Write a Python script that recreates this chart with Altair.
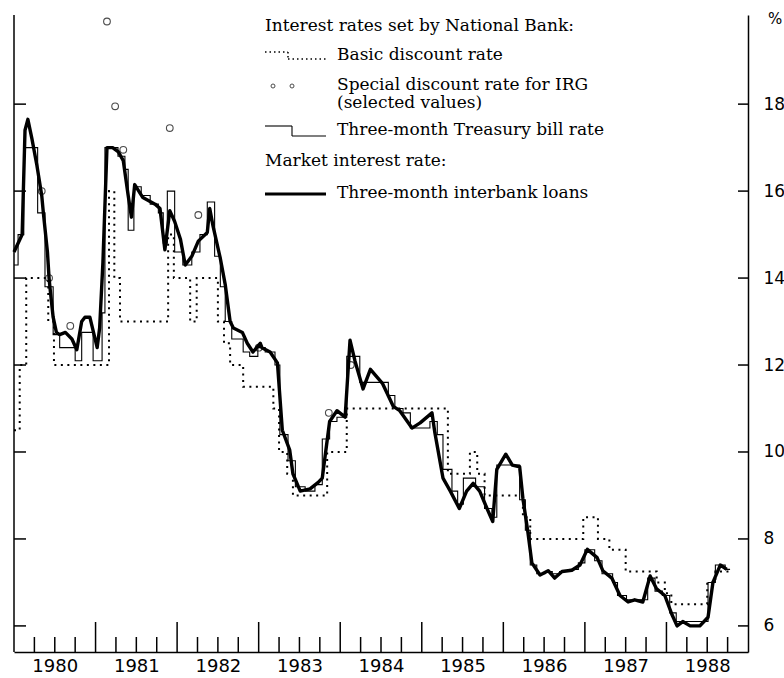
import altair as alt
import pandas as pd

# ---------------- data (decimal year, percent) ----------------
ib_t = [1980.00, 1980.10, 1980.135, 1980.17, 1980.22, 1980.28, 1980.34, 1980.36, 1980.41, 1980.43,
        1980.44, 1980.48, 1980.52, 1980.56, 1980.63, 1980.71, 1980.77, 1980.83, 1980.87, 1980.93,
        1981.02, 1981.05, 1981.09, 1981.14, 1981.21, 1981.28, 1981.34, 1981.40, 1981.44, 1981.48,
        1981.58, 1981.73, 1981.79, 1981.85, 1981.91, 1981.97, 1982.04, 1982.10, 1982.18, 1982.26,
        1982.37, 1982.40, 1982.44, 1982.53, 1982.59, 1982.65, 1982.69, 1982.80, 1982.86, 1982.93,
        1983.02, 1983.04, 1983.14, 1983.23, 1983.29, 1983.38, 1983.42, 1983.51, 1983.63, 1983.73,
        1983.78, 1983.87, 1983.96, 1984.06, 1984.12, 1984.18, 1984.28, 1984.37, 1984.52, 1984.65,
        1984.73, 1984.88, 1984.98, 1985.125, 1985.16, 1985.26, 1985.35, 1985.46, 1985.55, 1985.63,
        1985.71, 1985.80, 1985.87, 1985.92, 1986.03, 1986.11, 1986.20, 1986.24, 1986.30, 1986.35,
        1986.45, 1986.55, 1986.63, 1986.72, 1986.84, 1986.94, 1987.03, 1987.15, 1987.22, 1987.33,
        1987.43, 1987.53, 1987.61, 1987.71, 1987.80, 1987.88, 1987.98, 1988.07, 1988.13, 1988.20,
        1988.29, 1988.41, 1988.51, 1988.57, 1988.66, 1988.74]
ib_v = [14.6, 15.0, 17.4, 17.65, 17.2, 16.6, 15.9, 15.5, 14.6, 14.0,
        13.8, 13.1, 12.75, 12.7, 12.75, 12.6, 12.35, 13.0, 13.1, 13.1,
        12.4, 12.85, 14.35, 17.0, 17.0, 16.9, 16.7, 15.9, 15.4, 16.15,
        15.85, 15.7, 15.6, 14.65, 15.55, 15.3, 14.9, 14.3, 14.5, 14.85,
        15.05, 15.6, 15.2, 14.45, 13.85, 13.0, 12.85, 12.75, 12.5, 12.3,
        12.5, 12.4, 12.3, 12.05, 10.5, 10.05, 9.5, 9.1, 9.15, 9.3,
        9.4, 10.7, 10.95, 10.8, 12.57, 12.1, 11.45, 11.9, 11.57, 11.05,
        10.95, 10.55, 10.67, 10.9, 10.45, 9.4, 9.1, 8.7, 9.1, 9.28,
        9.1, 8.7, 8.4, 9.6, 9.95, 9.7, 9.66, 8.93, 8.17, 7.45,
        7.17, 7.27, 7.1, 7.25, 7.28, 7.4, 7.76, 7.57, 7.27, 7.1,
        6.7, 6.55, 6.6, 6.55, 7.15, 6.85, 6.7, 6.25, 6.0, 6.1,
        6.0, 6.0, 6.2, 7.0, 7.4, 7.3]

tb_t = [1980.00, 1980.05, 1980.12, 1980.29, 1980.38, 1980.48, 1980.56, 1980.75, 1980.83, 1980.97,
        1981.08, 1981.115, 1981.275, 1981.36, 1981.40, 1981.47, 1981.56, 1981.67, 1981.77, 1981.83,
        1981.88, 1981.97, 1982.07, 1982.18, 1982.28, 1982.37, 1982.46, 1982.53, 1982.59, 1982.67,
        1982.81, 1982.89, 1982.99, 1983.08, 1983.20, 1983.26, 1983.36, 1983.45, 1983.57, 1983.69,
        1983.78, 1983.87, 1983.96, 1984.08, 1984.24, 1984.59, 1984.67, 1984.77, 1984.86, 1985.10,
        1985.19, 1985.26, 1985.37, 1985.44, 1985.51, 1985.66, 1985.77, 1985.86, 1985.92, 1986.20,
        1986.27, 1986.33, 1986.41, 1986.51, 1986.60, 1986.69, 1986.82, 1986.92, 1987.00, 1987.12,
        1987.21, 1987.34, 1987.40, 1987.51, 1987.77, 1987.86, 1987.95, 1988.04, 1988.12, 1988.51,
        1988.60, 1988.72, 1988.78]
tb_v = [14.3, 15.0, 17.0, 15.5, 13.8, 12.7, 12.4, 12.1, 12.75, 12.1,
        13.2, 17.0, 16.8, 16.5, 15.1, 16.1, 15.9, 15.7, 15.5, 14.8,
        16.0, 14.6, 14.3, 14.6, 15.0, 15.75, 14.5, 13.8, 13.0, 12.6,
        12.3, 12.2, 12.4, 12.3, 12.0, 10.4, 9.8, 9.2, 9.1, 9.25,
        10.3, 10.7, 10.8, 12.2, 11.6, 11.3, 11.0, 10.9, 10.55, 10.7,
        10.4, 9.6, 9.1, 8.8, 9.4, 9.2, 8.7, 8.5, 9.7, 8.9,
        8.2, 7.4, 7.2, 7.25, 7.2, 7.25, 7.3, 7.45, 7.75, 7.5,
        7.2, 7.0, 6.7, 6.6, 7.1, 6.8, 6.7, 6.3, 6.1, 7.0,
        7.4, 7.3, 7.3]

dr_t = [1980.00, 1980.07, 1980.15, 1980.42, 1980.49, 1981.165, 1981.23, 1981.30, 1981.89, 1981.96,
        1982.16, 1982.24, 1982.50, 1982.575, 1982.65, 1982.81, 1983.18, 1983.25, 1983.35, 1983.42,
        1983.84, 1984.08, 1985.32, 1985.59, 1985.68, 1985.77, 1986.24, 1986.33, 1986.98, 1987.16,
        1987.30, 1987.50, 1987.88, 1987.98, 1988.06, 1988.50, 1988.60, 1988.78]
dr_v = [10.5, 12.0, 14.0, 13.0, 12.0, 16.0, 14.0, 13.0, 15.0, 14.0,
        13.0, 14.0, 13.0, 12.5, 12.0, 11.5, 11.0, 10.0, 9.5, 9.0,
        10.0, 11.0, 9.5, 10.0, 9.5, 9.0, 8.5, 8.0, 8.5, 8.0,
        7.75, 7.25, 7.0, 6.75, 6.5, 7.0, 7.25, 7.25]

sp_t = [1980.34, 1980.43, 1980.69, 1981.14, 1981.24, 1981.34, 1981.91, 1982.26, 1983.00, 1983.86, 1984.13]
sp_v = [16.0, 14.0, 12.9, 19.9, 17.95, 16.95, 17.45, 15.45, 12.4, 10.9, 12.0]

year_ticks = [1981, 1982, 1983, 1984, 1985, 1986, 1987, 1988]
quarter_ticks = [1980.25, 1980.5, 1980.75, 1981.25, 1981.5, 1981.75, 1982.25, 1982.5, 1982.75,
                 1983.25, 1983.5, 1983.75, 1984.25, 1984.5, 1984.75, 1985.25, 1985.5, 1985.75,
                 1986.25, 1986.5, 1986.75, 1987.25, 1987.5, 1987.75, 1988.25, 1988.5, 1988.75]
year_label_pos = [1980.5, 1981.5, 1982.5, 1983.5, 1984.5, 1985.5, 1986.5, 1987.5, 1988.5]
pct_ticks = [6, 8, 10, 12, 14, 16, 18]

# ---------------- layout ----------------
W, H = 734, 637
xs = alt.Scale(domain=[1980, 1989], nice=False, zero=False)
ys = alt.Scale(domain=[5.4, 20.05], nice=False, zero=False)
SANS = "DejaVu Sans"
SERIF = "DejaVu Serif"

def df(t, v):
    return pd.DataFrame({"t": t, "v": v})

x_axis = alt.Axis(values=year_label_pos, labelExpr="'' + floor(datum.value)", ticks=False,
                  domain=True, domainColor="black", domainWidth=1.5, labelFont=SANS,
                  labelFontSize=18, labelColor="black", labelPadding=5, grid=False,
                  title=None, labelFlush=False, labelOverlap=False)
y_axis = alt.Axis(orient="right", values=pct_ticks, ticks=False, domain=True, domainColor="black",
                  domainWidth=1.5, labelFont=SANS, labelFontSize=17, labelColor="black",
                  labelPadding=15, grid=False, title=None, labelFlush=False)

interbank = alt.Chart(df(ib_t, ib_v)).mark_line(color="black", strokeWidth=3.4, strokeJoin="round").encode(
    x=alt.X("t:Q", scale=xs, axis=x_axis), y=alt.Y("v:Q", scale=ys, axis=y_axis))
treasury = alt.Chart(df(tb_t, tb_v)).mark_line(color="black", strokeWidth=1.1, interpolate="step-after").encode(
    x=alt.X("t:Q", scale=xs), y=alt.Y("v:Q", scale=ys))
discount = alt.Chart(df(dr_t, dr_v)).mark_line(color="black", strokeWidth=2, strokeDash=[2, 4.5],
                                               interpolate="step-after").encode(
    x=alt.X("t:Q", scale=xs), y=alt.Y("v:Q", scale=ys))
special = alt.Chart(df(sp_t, sp_v)).mark_point(shape="circle", filled=False, size=45, strokeWidth=1.1,
                                               color="black").encode(
    x=alt.X("t:Q", scale=xs), y=alt.Y("v:Q", scale=ys))

# frame pieces and inward ticks
one = pd.DataFrame({"k": [0]})
left_line = alt.Chart(one).mark_rule(color="black", strokeWidth=1.5).encode(
    x=alt.value(0), y=alt.value(0), y2=alt.value(H))
yt = alt.Chart(pd.DataFrame({"v": pct_ticks}))
left_ticks = yt.mark_rule(color="black", strokeWidth=1.5).encode(
    y=alt.Y("v:Q", scale=ys), x=alt.value(0), x2=alt.value(12))
right_ticks = yt.mark_rule(color="black", strokeWidth=1.5).encode(
    y=alt.Y("v:Q", scale=ys), x=alt.value(W - 10), x2=alt.value(W))
year_rules = alt.Chart(pd.DataFrame({"t": year_ticks})).mark_rule(color="black", strokeWidth=1.5).encode(
    x=alt.X("t:Q", scale=xs), y=alt.value(H), y2=alt.value(H - 30))
quarter_rules = alt.Chart(pd.DataFrame({"t": quarter_ticks})).mark_rule(color="black", strokeWidth=1.5).encode(
    x=alt.X("t:Q", scale=xs), y=alt.value(H), y2=alt.value(H - 15))
pct_sign = alt.Chart(one).mark_text(align="left", baseline="top", font=SANS, fontSize=15, color="black").encode(
    x=alt.value(W + 20), y=alt.value(-3), text=alt.value("%"))

# ---------------- legend ----------------
def seg(x1, y1, x2, y2, **kw):
    return alt.Chart(one).mark_rule(color="black", **kw).encode(
        x=alt.value(x1), y=alt.value(y1), x2=alt.value(x2), y2=alt.value(y2))

def txt(x, y, s):
    return alt.Chart(one).mark_text(align="left", baseline="alphabetic", font=SERIF, fontSize=17,
                                    color="black").encode(x=alt.value(x), y=alt.value(y), text=alt.value(s))

def dot(x, y):
    return alt.Chart(one).mark_point(shape="circle", filled=False, size=16, strokeWidth=1,
                                     color="black").encode(x=alt.value(x), y=alt.value(y))

LX, TX = 251, 323
legend = [
    txt(LX, 16, "Interest rates set by National Bank:"),
    seg(LX, 37, 274, 37, strokeWidth=1.5, strokeDash=[1.5, 3]),
    seg(274, 37, 274, 44, strokeWidth=1.5, strokeDash=[1.5, 2.5]),
    seg(274, 44, 312, 44, strokeWidth=1.5, strokeDash=[1.5, 3]),
    txt(TX, 45, "Basic discount rate"),
    dot(259, 71), dot(278, 71),
    txt(TX, 75, "Special discount rate for IRG"),
    txt(TX, 93, "(selected values)"),
    seg(LX, 111, 278, 111, strokeWidth=1.1),
    seg(278, 111, 278, 121, strokeWidth=1.1),
    seg(278, 121, 312, 121, strokeWidth=1.1),
    txt(TX, 120, "Three-month Treasury bill rate"),
    txt(LX, 151, "Market interest rate:"),
    seg(LX, 179, 312, 179, strokeWidth=3),
    txt(TX, 183, "Three-month interbank loans"),
]

chart = alt.layer(
    discount, treasury, interbank, special,
    left_line, left_ticks, right_ticks, year_rules, quarter_rules, pct_sign,
    *legend
).properties(
    width=W, height=H,
    padding={"left": 14, "top": 15, "right": 36, "bottom": 26},
    autosize=alt.AutoSizeParams(type="none"),
).configure_view(stroke=None).configure_axis(grid=False)

chart.save("out.html", embed_options={"renderer": "svg", "actions": False})
